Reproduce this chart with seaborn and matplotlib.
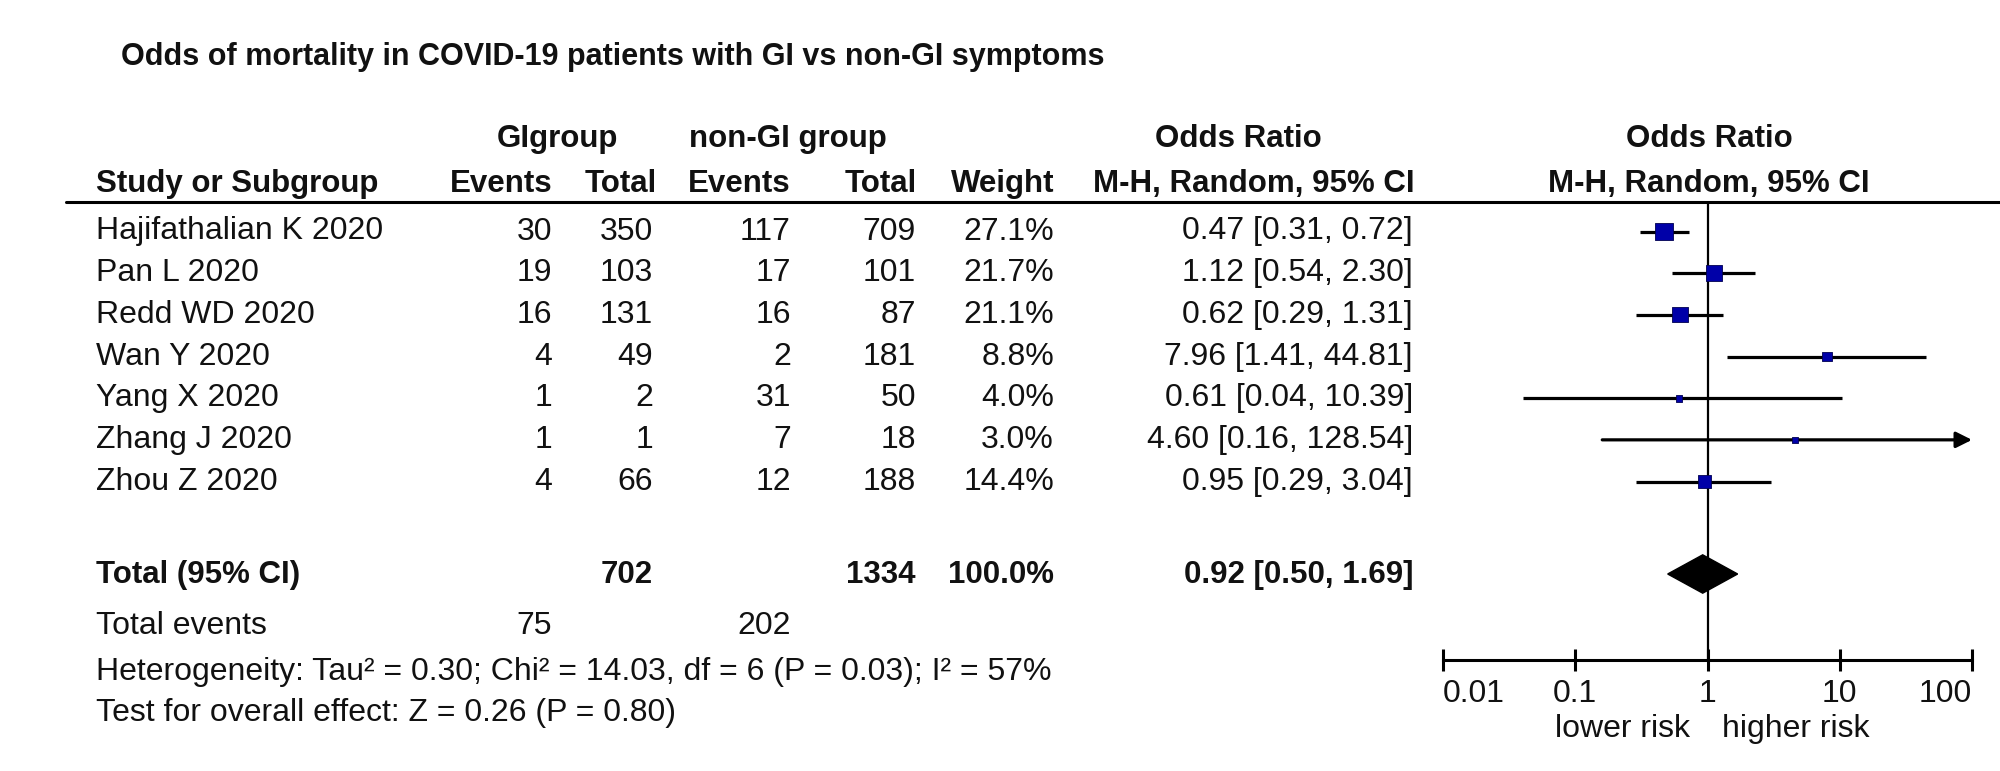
import numpy as np
import pandas as pd
import seaborn as sns
import matplotlib.pyplot as plt
from matplotlib.lines import Line2D

# data
studies = ["Hajifathalian K 2020", "Pan L 2020", "Redd WD 2020", "Wan Y 2020",
           "Yang X 2020", "Zhang J 2020", "Zhou Z 2020"]
gi_events = [30, 19, 16, 4, 1, 1, 4]
gi_total = [350, 103, 131, 49, 2, 1, 66]
non_events = [117, 17, 16, 2, 31, 7, 12]
non_total = [709, 101, 87, 181, 50, 18, 188]
weights = [27.1, 21.7, 21.1, 8.8, 4.0, 3.0, 14.4]
odds = [0.47, 1.12, 0.62, 7.96, 0.61, 4.60, 0.95]
ci_low = [0.31, 0.54, 0.29, 1.41, 0.04, 0.16, 0.29]
ci_high = [0.72, 2.30, 1.31, 44.81, 10.39, 128.54, 3.04]

total_or = 0.92
total_low = 0.50
total_high = 1.69
total_gi = 702
total_non = 1334
total_weight = 100.0
events_gi = 75
events_non = 202
heterogeneity = "Heterogeneity: Tau² = 0.30; Chi² = 14.03, df = 6 (P = 0.03); I² = 57%"
overall = "Test for overall effect: Z = 0.26 (P = 0.80)"
tick_vals = [0.01, 0.1, 1, 10, 100]
tick_labels = ["0.01", "0.1", "1", "10", "100"]

df = pd.DataFrame({"study": studies, "or": odds, "lo": ci_low, "hi": ci_high, "w": weights})
df["row"] = np.arange(len(df))

sns.set_theme(style="white")
plt.rcParams["font.family"] = ["Liberation Sans", "DejaVu Sans"]

W, H = 2000, 771
fig = plt.figure(figsize=(20, 7.71), dpi=100)

# background axes in pixel units for the table text
bg = fig.add_axes([0, 0, 1, 1])
bg.set_xlim(0, W)
bg.set_ylim(H, 0)
bg.axis("off")

fs = 23
bold = dict(fontsize=22.5, fontweight="bold", va="center", color="#111111")
norm = dict(fontsize=fs, va="center", color="#111111")

bg.text(121, 57, "Odds of mortality in COVID-19 patients with GI vs non-GI symptoms",
        fontsize=22, fontweight="bold", va="center", ha="left", color="#111111")

# headers
bg.text(557, 139, "GIgroup", ha="center", **bold)
bg.text(788, 139, "non-GI group", ha="center", **bold)
bg.text(1238, 139, "Odds Ratio", ha="center", **bold)
bg.text(1709, 139, "Odds Ratio", ha="center", **bold)
bg.text(96, 184, "Study or Subgroup", ha="left", **bold)
bg.text(552, 184, "Events", ha="right", **bold)
bg.text(657, 184, "Total", ha="right", **bold)
bg.text(791, 184, "Events", ha="right", **bold)
bg.text(917, 184, "Total", ha="right", **bold)
bg.text(1054, 184, "Weight", ha="right", **bold)
bg.text(1415, 184, "M-H, Random, 95% CI", ha="right", **bold)
bg.text(1709, 184, "M-H, Random, 95% CI", ha="center", **bold)
top_px = 202
bg.add_line(Line2D([66, W], [top_px, top_px], color="black", lw=2.2))

# study rows
row0, step = 231.5, 41.67
for i in range(len(studies)):
    y = row0 + i * step
    bg.text(96, y, studies[i], ha="left", **norm)
    bg.text(552, y, str(gi_events[i]), ha="right", **norm)
    bg.text(653, y, str(gi_total[i]), ha="right", **norm)
    bg.text(791, y, str(non_events[i]), ha="right", **norm)
    bg.text(916, y, str(non_total[i]), ha="right", **norm)
    bg.text(1054, y, f"{weights[i]:.1f}%", ha="right", **norm)
    bg.text(1413, y, f"{odds[i]:.2f} [{ci_low[i]:.2f}, {ci_high[i]:.2f}]", ha="right", **norm)

total_px = 575
bg.text(96, total_px, "Total (95% CI)", ha="left", **bold)
bg.text(653, total_px, str(total_gi), ha="right", **bold)
bg.text(916, total_px, str(total_non), ha="right", **bold)
bg.text(1054, total_px, f"{total_weight:.1f}%", ha="right", **bold)
bg.text(1413, total_px, f"{total_or:.2f} [{total_low:.2f}, {total_high:.2f}]", ha="right", **bold)
bg.text(96, 626, "Total events", ha="left", **norm)
bg.text(552, 626, str(events_gi), ha="right", **norm)
bg.text(791, 626, str(events_non), ha="right", **norm)
bg.text(96, 672, heterogeneity, ha="left", **norm)
bg.text(96, 713, overall, ha="left", **norm)

# forest plot axes: log scale 0.01..100
axis_px = 660
ax = fig.add_axes([1443 / W, 1 - axis_px / H, (1972 - 1443) / W, (axis_px - top_px) / H])
ax.patch.set_alpha(0)
ax.set_xscale("log")
ax.set_xlim(0.01, 100)
ax.set_ylim((axis_px - row0) / step, (top_px - row0) / step)
total_row = (total_px - 1 - row0) / step

ax.axvline(1, color="black", lw=1.6, zorder=1)
for r in df.itertuples():
    if r.hi > 100:
        ax.annotate("", xy=(100, r.row), xytext=(r.lo, r.row),
                    arrowprops=dict(arrowstyle="-|>", lw=2.3, color="black",
                                    mutation_scale=24, shrinkA=0, shrinkB=0),
                    annotation_clip=False, zorder=2)
    else:
        ax.plot([r.lo, r.hi], [r.row, r.row], color="black", lw=2.3, zorder=2,
                solid_capstyle="butt")

sns.scatterplot(data=df, x="or", y="row", marker="s", s=(12.5 * np.sqrt(df["w"] / 27.1)) ** 2,
                color="#0000A8", edgecolor="#000050", linewidth=0.6, legend=False, zorder=4, ax=ax)

ax.fill([total_low, total_or, total_high, total_or],
        [total_row, total_row - 0.46, total_row, total_row + 0.46],
        color="black", zorder=5)

for s in ["top", "right", "left"]:
    ax.spines[s].set_visible(False)
ax.spines["bottom"].set_color("black")
ax.spines["bottom"].set_linewidth(2.2)
ax.set_yticks([])
ax.set_xticks(tick_vals)
ax.set_xticklabels(tick_labels)
ax.xaxis.set_minor_locator(plt.NullLocator())
ax.tick_params(axis="x", direction="inout", length=16, width=2.2, color="black",
               labelsize=fs, labelcolor="#111111", pad=6, bottom=True)
labels = ax.get_xticklabels()
labels[0].set_ha("left")
labels[-1].set_ha("right")
ax.set_xlabel("")
ax.set_ylabel("")

bg.text(1690, 729, "lower risk", ha="right", **norm)
bg.text(1722, 729, "higher risk", ha="left", **norm)

fig.savefig("out.png", dpi=100, facecolor="white")
